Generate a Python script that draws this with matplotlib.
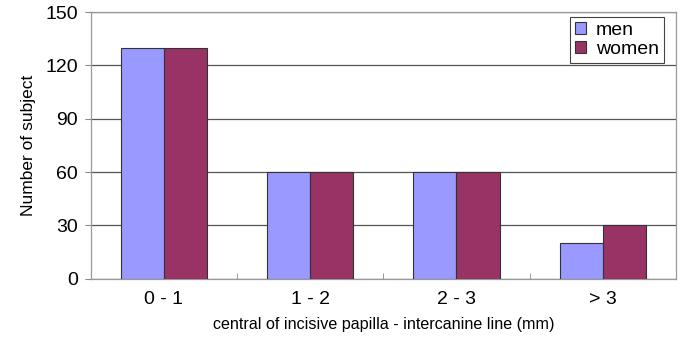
import matplotlib.pyplot as plt
import numpy as np

categories = ["0 - 1", "1 - 2", "2 - 3", "> 3"]
men = [130, 60, 60, 20]
women = [130, 60, 60, 30]
yticks = [0, 30, 60, 90, 120, 150]

plt.rcParams['font.family'] = ['Liberation Sans', 'DejaVu Sans']

fig = plt.figure(figsize=(6.82, 3.43), dpi=100)
ax = fig.add_axes([0.133, 0.187, 0.858, 0.778])

x = np.arange(len(categories))
w = 0.295
ax.bar(x - w / 2, men, w, color='#9999ff', edgecolor='#333333', linewidth=0.8, label='men', zorder=3)
ax.bar(x + w / 2, women, w, color='#993366', edgecolor='#333333', linewidth=0.8, label='women', zorder=3)

ax.set_xlim(-0.5, len(categories) - 0.5)
ax.set_ylim(0, 150)
ax.set_yticks(yticks)
ax.yaxis.grid(True, color='#555555', linewidth=0.9, zorder=0)

# category labels centred, tick marks on the boundaries
ax.set_xticks(x)
ax.set_xticklabels(categories)
ax.tick_params(axis='x', length=0, labelsize=14, pad=9)
ax.set_xticks(np.arange(len(categories) + 1) - 0.5, minor=True)
ax.tick_params(axis='x', which='minor', direction='in', length=4, color='#888888')
ax.tick_params(axis='y', length=4, color='#888888', labelsize=14, pad=5)

for s in ax.spines.values():
    s.set_color('#999999')
    s.set_linewidth(0.9)

ax.set_xlabel('central of incisive papilla - intercanine line (mm)', fontsize=11.6, labelpad=6)
ax.set_ylabel('Number of subject', fontsize=12.5, labelpad=7)

leg = ax.legend(loc='upper right', bbox_to_anchor=(0.986, 0.995), fontsize=14,
                fancybox=False, framealpha=1, edgecolor='#444444',
                handlelength=0.6, handleheight=0.6, handletextpad=0.5,
                borderpad=0.25, labelspacing=0.1, borderaxespad=0.2)
leg.get_frame().set_linewidth(0.8)

fig.savefig('out.png', dpi=100)
